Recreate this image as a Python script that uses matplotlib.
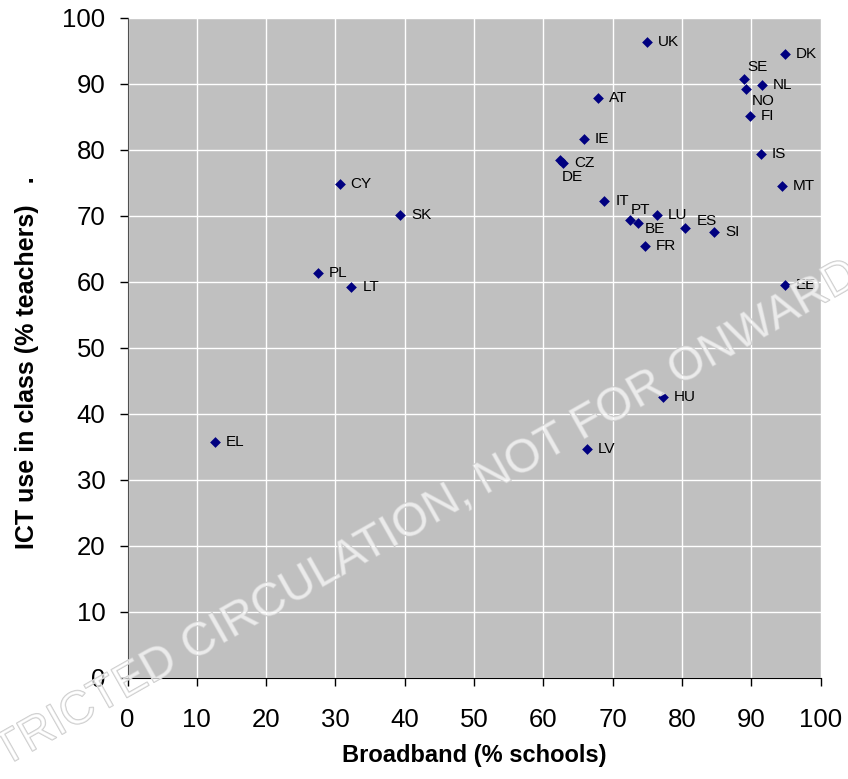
import matplotlib.pyplot as plt
import matplotlib.patheffects as pe

plt.rcParams['font.family'] = ['Liberation Sans', 'DejaVu Sans']

# data
countries = ['UK', 'DK', 'SE', 'NL', 'NO', 'AT', 'FI', 'IE', 'IS', 'MT',
             'CZ', 'DE', 'IT', 'PT', 'BE', 'LU', 'ES', 'SI', 'FR', 'EE',
             'CY', 'SK', 'PL', 'LT', 'HU', 'LV', 'EL']
broadband = [75.0, 94.9, 88.9, 91.5, 89.3, 67.9, 89.8, 65.8, 91.4, 94.4,
             62.9, 62.4, 68.8, 72.5, 73.7, 76.4, 80.5, 84.7, 74.6, 94.9,
             30.6, 39.3, 27.5, 32.3, 77.2, 66.3, 12.6]
ict_use = [96.3, 94.5, 90.8, 89.9, 89.3, 87.9, 85.1, 81.6, 79.4, 74.5,
           78.0, 78.4, 72.2, 69.4, 68.9, 70.2, 68.1, 67.5, 65.4, 59.5,
           74.9, 70.2, 61.3, 59.2, 42.6, 34.7, 35.7]

# label offsets in pixels (default: to the right)
offsets = {'SE': (4, 12), 'NO': (5, -12), 'DE': (2, -17), 'PT': (1, 10),
           'BE': (6, -6), 'ES': (11, 7)}

fig = plt.figure(figsize=(8.48, 7.79), dpi=100)
ax = fig.add_axes([0.1504, 0.130, 0.8172, 0.847])
ax.set_facecolor('#C0C0C0')

ax.scatter(broadband, ict_use, marker='D', s=30, color='#000080', zorder=3,
           linewidths=0)
for c, x, y in zip(countries, broadband, ict_use):
    dx, dy = offsets.get(c, (11, 0))
    ax.annotate(c, (x, y), xytext=(dx, dy), textcoords='offset pixels',
                ha='left', va='center', fontsize=11, zorder=4)

ax.set_xlim(0, 100)
ax.set_ylim(0, 100)
ax.set_xticks(range(0, 101, 10))
ax.set_yticks(range(0, 101, 10))
ax.grid(True, color='white', linewidth=1)
ax.set_axisbelow(True)
for s in ['top', 'right']:
    ax.spines[s].set_visible(False)
ax.spines['left'].set_color('#505050')
ax.spines['bottom'].set_color('black')
ax.tick_params(direction='out', length=6, width=1, color='black',
               labelsize=18.5, pad=10)
ax.tick_params(axis='x', pad=16)
ax.set_xlabel('Broadband (% schools)', fontsize=17, fontweight='bold',
              va='center')
ax.set_ylabel('ICT use in class (% teachers)   .', fontsize=18,
              fontweight='bold', va='center')
ax.xaxis.set_label_coords(0.5, -0.118)
ax.yaxis.set_label_coords(-0.145, 0.477)

# watermark
fig.text(-0.093, -0.045, 'RESTRICTED CIRCULATION, NOT FOR ONWARD TRANSMISSION',
         rotation=29.5, fontsize=33.5, color=(1, 1, 1, 0.45), ha='left',
         va='baseline', rotation_mode='anchor', zorder=10,
         path_effects=[pe.withStroke(linewidth=1, foreground='#CACACA')])

fig.savefig('out.png', dpi=100)
